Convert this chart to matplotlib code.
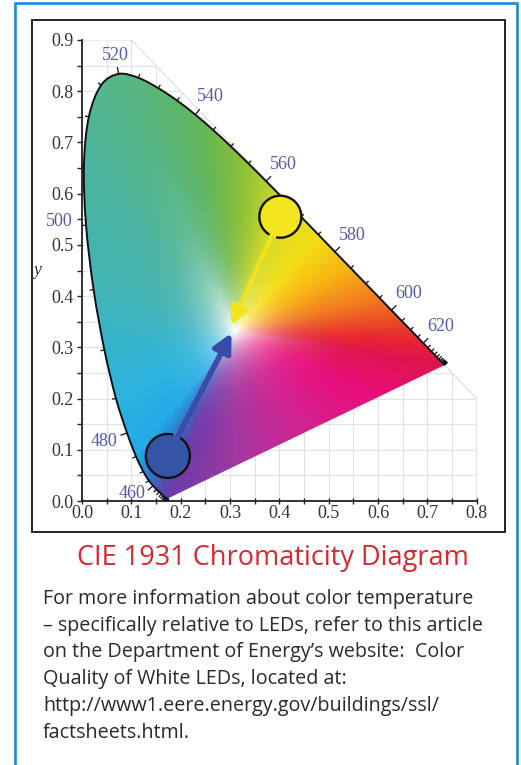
import numpy as np
import matplotlib.pyplot as plt
from matplotlib.patches import Polygon, Rectangle, Arc, Ellipse, PathPatch
from matplotlib.path import Path
from matplotlib.collections import LineCollection
from matplotlib.ticker import MultipleLocator, FormatStrFormatter

# CIE 1931 2-degree spectral locus, 5 nm steps
wavelength_nm = [380, 385, 390, 395, 400, 405, 410, 415, 420, 425, 430, 435,
                 440, 445, 450, 455, 460, 465, 470, 475, 480, 485, 490, 495,
                 500, 505, 510, 515, 520, 525, 530, 535, 540, 545, 550, 555,
                 560, 565, 570, 575, 580, 585, 590, 595, 600, 605, 610, 615,
                 620, 625, 630, 635, 640, 645, 650, 655, 660, 665, 670, 675,
                 680, 685, 690, 695, 700]
locus_x = [0.1741, 0.1740, 0.1738, 0.1736, 0.1733, 0.1730, 0.1726, 0.1721,
           0.1714, 0.1703, 0.1689, 0.1669, 0.1644, 0.1611, 0.1566, 0.1510,
           0.1440, 0.1355, 0.1241, 0.1096, 0.0913, 0.0687, 0.0454, 0.0235,
           0.0082, 0.0039, 0.0139, 0.0389, 0.0743, 0.1142, 0.1547, 0.1929,
           0.2296, 0.2658, 0.3016, 0.3373, 0.3731, 0.4087, 0.4441, 0.4788,
           0.5125, 0.5448, 0.5752, 0.6029, 0.6270, 0.6482, 0.6658, 0.6801,
           0.6915, 0.7006, 0.7079, 0.7140, 0.7190, 0.7230, 0.7260, 0.7283,
           0.7300, 0.7311, 0.7320, 0.7327, 0.7334, 0.7340, 0.7344, 0.7346,
           0.7347]
locus_y = [0.0050, 0.0050, 0.0049, 0.0049, 0.0048, 0.0048, 0.0048, 0.0048,
           0.0051, 0.0058, 0.0069, 0.0086, 0.0109, 0.0138, 0.0177, 0.0227,
           0.0297, 0.0399, 0.0578, 0.0868, 0.1327, 0.2007, 0.2950, 0.4127,
           0.5384, 0.6548, 0.7502, 0.8120, 0.8338, 0.8262, 0.8059, 0.7816,
           0.7543, 0.7243, 0.6923, 0.6589, 0.6245, 0.5896, 0.5547, 0.5202,
           0.4866, 0.4544, 0.4242, 0.3965, 0.3725, 0.3514, 0.3340, 0.3197,
           0.3083, 0.2993, 0.2920, 0.2859, 0.2809, 0.2770, 0.2740, 0.2717,
           0.2700, 0.2689, 0.2680, 0.2673, 0.2666, 0.2660, 0.2656, 0.2654,
           0.2653]
labeled_nm = [460, 480, 500, 520, 540, 560, 580, 600, 620]

# marked LED colours (yellow, blue) and the white point their arrows aim at
led_x = [0.402, 0.174]
led_y = [0.555, 0.088]
tip_x = [0.303, 0.303]
tip_y = [0.344, 0.328]
white_point = (0.31, 0.33)

# colours seen along the edge of the fill (wavelength -> rgb)
edge_nm = [700, 620, 605, 595, 585, 575, 565, 555, 545, 535, 520, 505, 495,
           485, 475, 465, 450]
edge_rgb = [(222, 20, 80), (232, 35, 50), (236, 75, 40), (242, 125, 32),
            (248, 178, 20), (245, 222, 22), (215, 220, 40), (150, 195, 55),
            (110, 185, 75), (95, 182, 105), (88, 182, 135), (75, 180, 160),
            (65, 180, 185), (45, 180, 222), (35, 170, 232), (45, 120, 200),
            (85, 75, 175)]
# along the purple line, from the 380 nm end to the 700 nm end
purple_t = [0.0, 0.25, 0.5, 0.75, 1.0]
purple_rgb = [(110, 60, 170), (165, 55, 160), (210, 35, 145), (232, 15, 125),
              (222, 20, 80)]

body_lines = [
    "For more information about color temperature",
    "\u2013 specifically relative to LEDs, refer to this article",
    "on the Department of Energy\u2019s website:  Color",
    "Quality of White LEDs, located at:",
    "http://www1.eere.energy.gov/buildings/ssl/",
    "factsheets.html.",
]

W, H = 521, 765
fig = plt.figure(figsize=(W / 100, H / 100), dpi=100)
ax = fig.add_axes([82 / W, 264 / H, 394.7 / W, 461 / H])
ax.set_xlim(0, 0.8)
ax.set_ylim(0, 0.9)

lx = np.array(locus_x)
ly = np.array(locus_y)
wx, wy = white_point


def smooth_path(xs, ys, close=False):
    # Catmull-Rom through the points, written as cubic Bezier path segments
    p = np.column_stack([xs, ys])
    ext = np.vstack([p[0], p, p[-1]])
    verts = [p[0]]
    codes = [Path.MOVETO]
    for i in range(len(p) - 1):
        p0, p1, p2, p3 = ext[i], ext[i + 1], ext[i + 2], ext[i + 3]
        verts += [p1 + (p2 - p0) / 6, p2 - (p3 - p1) / 6, p2]
        codes += [Path.CURVE4] * 3
    if close:
        verts.append(p[0])
        codes.append(Path.CLOSEPOLY)
    return Path(verts, codes)


# ---- colour fill: hue by angle round the white point, saturation by distance
px = np.array(locus_x + [locus_x[0]])
py = np.array(locus_y + [locus_y[0]])
ax_pts = []
anchor_cols = []
for nm, c in zip(edge_nm, edge_rgb):
    i = wavelength_nm.index(nm)
    ax_pts.append((lx[i], ly[i]))
    anchor_cols.append(c)
for t, c in zip(purple_t, purple_rgb):
    ax_pts.append((lx[0] + t * (lx[-1] - lx[0]), ly[0] + t * (ly[-1] - ly[0])))
    anchor_cols.append(c)
ax_pts = np.array(ax_pts)
anchor_cols = np.array(anchor_cols) / 255.0
a0 = np.arctan2(ax_pts[0, 1] - wy, ax_pts[0, 0] - wx)
ang = np.mod(np.arctan2(ax_pts[:, 1] - wy, ax_pts[:, 0] - wx) - a0, 2 * np.pi)
ang[-1] = 2 * np.pi

# boundary distance for each ray direction
theta = np.linspace(0, 2 * np.pi, 3000)
dxr = np.cos(theta + a0)[:, None]
dyr = np.sin(theta + a0)[:, None]
ex = (px[1:] - px[:-1])[None, :]
ey = (py[1:] - py[:-1])[None, :]
qx = (px[:-1] - wx)[None, :]
qy = (py[:-1] - wy)[None, :]
den = dxr * ey - dyr * ex
with np.errstate(divide="ignore", invalid="ignore"):
    tt = (qx * ey - qy * ex) / den
    ss = (qx * dyr - qy * dxr) / den
ok = (ss >= 0) & (ss <= 1) & (tt > 0)
tt = np.where(ok, tt, np.inf)
rmax = tt.min(axis=1)

gx = np.linspace(0, 0.75, 600)
gy = np.linspace(0, 0.85, 680)
GX, GY = np.meshgrid(gx, gy)
rel = np.mod(np.arctan2(GY - wy, GX - wx) - a0, 2 * np.pi)
dist = np.hypot(GX - wx, GY - wy)
r = np.clip(dist / np.interp(rel, theta, rmax), 0, 1)
f = 1 - (1 - r) ** 5
img = np.empty(GX.shape + (3,))
for k in range(3):
    col = np.interp(rel, ang, anchor_cols[:, k])
    img[..., k] = 1 - f * (1 - col)

# grid, only inside the x + y <= 1 region
grid_poly = Polygon([(0, 0), (0, 0.9), (0.1, 0.9), (0.8, 0.2), (0.8, 0)],
                    closed=True, facecolor="none", edgecolor="#dedede",
                    lw=0.8, zorder=0.6, transform=ax.transData)
ax.add_patch(grid_poly)
for v in np.arange(1, 16) * 0.05:
    ln, = ax.plot([v, v], [0, 0.9], color="#e2e2e2", lw=0.8, zorder=0.5)
    ln.set_clip_path(grid_poly)
for v in np.arange(1, 18) * 0.05:
    ln, = ax.plot([0, 0.8], [v, v], color="#e2e2e2", lw=0.8, zorder=0.5)
    ln.set_clip_path(grid_poly)

fill_patch = PathPatch(smooth_path(lx, ly, close=True), facecolor="none",
                       edgecolor="none", transform=ax.transData)
ax.add_patch(fill_patch)
im = ax.imshow(img, extent=(0, 0.75, 0, 0.85), origin="lower",
               interpolation="bilinear", aspect="auto", zorder=1)
im.set_clip_path(fill_patch)
ax.set_xlim(0, 0.8)
ax.set_ylim(0, 0.9)

ax.add_patch(PathPatch(smooth_path(lx, ly), facecolor="none",
                       edgecolor="#111111", lw=1.4, zorder=3))

# ---- wavelength ticks and labels along the locus (drawn in pixel space)
tr = ax.transData
pts = tr.transform(np.column_stack([lx, ly]))
wpx = tr.transform([white_point])[0]
tan = np.gradient(pts, axis=0)
tan /= np.hypot(tan[:, 0], tan[:, 1])[:, None] + 1e-12
nrm = np.column_stack([-tan[:, 1], tan[:, 0]])
away = pts - wpx
flip = np.sum(nrm * away, axis=1) < 0
nrm[flip] *= -1
segs = []
for i, nm in enumerate(wavelength_nm):
    L = 7 if nm in labeled_nm else 4
    a = pts[i]
    b = pts[i] + nrm[i] * L
    segs.append(tr.inverted().transform([a, b]))
ax.add_collection(LineCollection(segs, colors="#111111", lw=0.9, zorder=3))
label_nudge = {460: (-3, 8), 500: (-3, 6)}
for nm in labeled_nm:
    i = wavelength_nm.index(nm)
    n = nrm[i]
    d = 9 + abs(n[0]) * 14 + abs(n[1]) * 7
    nx_, ny_ = label_nudge.get(nm, (0, 0))
    ax.annotate(str(nm), xy=(lx[i], ly[i]),
                xytext=(n[0] * d + nx_, n[1] * d + ny_),
                textcoords="offset pixels", ha="center", va="center",
                fontsize=13, family="Liberation Serif", color="#5558a8",
                zorder=6, annotation_clip=False)

# ---- LED circles and arrows to the white point
sx = tr.transform((1, 0))[0] - tr.transform((0, 0))[0]
sy = tr.transform((0, 1))[1] - tr.transform((0, 0))[1]
led_fill = ["#f2e71e", "#3556a6"]
arrow_col = ["#f2e41c", "#3b4ba8"]
arrow_lw = [3.0, 4.0]
radius_px = [21, 22]
gaps = [(258, 238), (76, 54)]
for i in range(2):
    ax.annotate("", xy=(tip_x[i], tip_y[i]), xytext=(led_x[i], led_y[i]),
                arrowprops=dict(arrowstyle="-|>,head_length=0.55,head_width=0.28",
                                color=arrow_col[i], lw=arrow_lw[i], shrinkA=0,
                                shrinkB=0, mutation_scale=20), zorder=4)
    w_ = 2 * radius_px[i] / sx
    h_ = 2 * radius_px[i] / sy
    ax.add_patch(Ellipse((led_x[i], led_y[i]), w_, h_, facecolor=led_fill[i],
                         edgecolor="none", zorder=5))
    ax.add_patch(Arc((led_x[i], led_y[i]), w_, h_, theta1=gaps[i][0],
                     theta2=gaps[i][1], color="#111111", lw=1.7, zorder=5))

# ---- axes styling
for s in ["top", "right"]:
    ax.spines[s].set_visible(False)
for s in ["left", "bottom"]:
    ax.spines[s].set_color("#222222")
    ax.spines[s].set_linewidth(1.3)
ax.set_xticks(np.arange(9) * 0.1)
ax.set_yticks(np.arange(10) * 0.1)
ax.xaxis.set_minor_locator(MultipleLocator(0.05))
ax.yaxis.set_minor_locator(MultipleLocator(0.05))
ax.xaxis.set_major_formatter(FormatStrFormatter("%.1f"))
ax.yaxis.set_major_formatter(FormatStrFormatter("%.1f"))
ax.tick_params(axis="x", which="both", direction="inout", length=4.5,
               width=1.0, color="#222222", pad=0.5)
ax.tick_params(axis="y", which="both", direction="out", length=3.6,
               width=1.0, color="#222222", pad=2.5)
for lab in ax.get_xticklabels() + ax.get_yticklabels():
    lab.set_family("Liberation Serif")
    lab.set_fontsize(13)
    lab.set_color("#333333")
for lab in ax.get_xticklabels():
    lab.set_x(lab.get_position()[0])
ax.patch.set_visible(False)

fig.text(37 / W, 1 - 270 / H, "y", family="Liberation Serif", style="italic",
         fontsize=13, color="#333333", ha="center", va="center")

# ---- frames
fig.patches.append(Rectangle((15 / W, -0.02), 502 / W, 1.02 - 3 / H,
                             transform=fig.transFigure, fill=False,
                             edgecolor="#1c8ad6", lw=1.9))
fig.patches.append(Rectangle((32 / W, 1 - 532 / H), 473 / W, 512 / H,
                             transform=fig.transFigure, fill=False,
                             edgecolor="#222222", lw=1.4))

# ---- caption
fig.text(273 / W, 1 - 558 / H, "CIE 1931 Chromaticity Diagram",
         family="Open Sans", fontsize=19.5, color="#d7282f",
         ha="center", va="center")
for j, line in enumerate(body_lines):
    fig.text(43 / W, 1 - (604 + j * 26.7) / H, line, family="Open Sans",
             fontsize=14.2, color="#2a2a2a", ha="left", va="baseline")

fig.savefig("out.png", dpi=100)
